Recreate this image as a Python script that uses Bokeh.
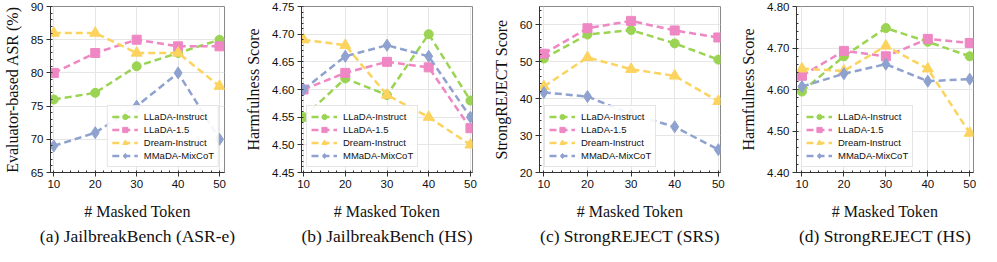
from bokeh.plotting import figure
from bokeh.layouts import row
from bokeh.models import Range1d, Title, FixedTicker, PrintfTickFormatter
from bokeh.embed import file_html
from bokeh.resources import INLINE

masked_tokens = [10, 20, 30, 40, 50]
series_names = ["LLaDA-Instruct", "LLaDA-1.5", "Dream-Instruct", "MMaDA-MixCoT"]

# (a) JailbreakBench ASR-e
a_llada_instruct = [76, 77, 81, 83, 85]
a_llada_15 = [80, 83, 85, 84, 84]
a_dream = [86, 86, 83, 83, 78]
a_mmada = [69, 71, 75, 80, 70]

# (b) JailbreakBench HS
b_llada_instruct = [4.55, 4.62, 4.59, 4.70, 4.58]
b_llada_15 = [4.60, 4.63, 4.65, 4.64, 4.53]
b_dream = [4.69, 4.68, 4.59, 4.55, 4.50]
b_mmada = [4.60, 4.66, 4.68, 4.66, 4.55]

# (c) StrongREJECT SRS
c_llada_instruct = [50.9, 57.4, 58.6, 55.0, 50.6]
c_llada_15 = [52.2, 59.1, 61.1, 58.5, 56.6]
c_dream = [43.3, 51.2, 48.0, 46.2, 39.3]
c_mmada = [41.7, 40.6, 35.8, 32.4, 26.2]

# (d) StrongREJECT HS
d_llada_instruct = [4.595, 4.680, 4.748, 4.715, 4.680]
d_llada_15 = [4.633, 4.693, 4.680, 4.722, 4.712]
d_dream = [4.650, 4.645, 4.705, 4.650, 4.495]
d_mmada = [4.607, 4.638, 4.661, 4.620, 4.625]

a_yticks = [65, 70, 75, 80, 85, 90]
b_yticks = [4.45, 4.50, 4.55, 4.60, 4.65, 4.70, 4.75]
c_yticks = [20, 30, 40, 50, 60]
d_yticks = [4.40, 4.50, 4.60, 4.70, 4.80]

colors = ["#9ad452", "#ee87c3", "#fbd35e", "#8fa2cf"]
markers = ["circle", "square", "triangle", "diamond"]
msizes = [9, 9, 11, 12]

SERIF = "Liberation Serif"
SANS = "Liberation Sans"


def make_panel(series, ylabel, caption, yr, yticks, yminor, fmt, xr,
               legend_loc, width, bl, br):
    p = figure(width=width, height=246, output_backend="svg",
               toolbar_location=None, x_range=Range1d(*xr), y_range=Range1d(*yr),
               min_border_left=bl, min_border_right=br, min_border_top=6,
               min_border_bottom=0)
    for vals, name, c, m, s in zip(series, series_names, colors, markers, msizes):
        p.line(masked_tokens, vals, line_color=c, line_width=2.5,
               line_dash="7 4", legend_label=name)
        p.scatter(masked_tokens, vals, marker=m, size=s, fill_color=c,
                  line_color=c, legend_label=name)
    p.xaxis.ticker = FixedTicker(ticks=masked_tokens,
                                 minor_ticks=list(range(8, 53, 2)))
    p.yaxis.ticker = FixedTicker(ticks=yticks, minor_ticks=yminor)
    p.yaxis.formatter = PrintfTickFormatter(format=fmt)
    for ax in (p.xaxis[0], p.yaxis[0]):
        ax.major_label_text_font = SANS
        ax.major_label_text_font_size = "11.5px"
        ax.major_label_text_color = "#111111"
        ax.axis_label_text_font = SERIF
        ax.axis_label_text_font_size = "16px"
        ax.axis_label_text_font_style = "normal"
        ax.axis_label_text_color = "#111111"
        ax.axis_line_color = "#333333"
        ax.major_tick_line_color = "#333333"
        ax.minor_tick_line_color = "#333333"
        ax.major_tick_out = 4
        ax.major_tick_in = 0
        ax.minor_tick_out = 0
        ax.minor_tick_in = 2
        ax.major_label_standoff = 3
    p.xaxis.axis_label = "# Masked Token"
    p.xaxis.axis_label_standoff = 12
    p.yaxis.axis_label = ylabel
    p.yaxis.axis_label_standoff = 7
    p.grid.grid_line_color = "#e6e6e6"
    p.grid.grid_line_width = 1
    p.outline_line_color = "#888888"
    p.outline_line_width = 1
    p.add_layout(Title(text=caption, align="center", text_font=SERIF,
                       text_font_size="17.5px", text_font_style="normal",
                       text_color="#111111", standoff=2), "below")
    lg = p.legend[0]
    lg.location = legend_loc
    lg.margin = 5
    lg.padding = 4
    lg.spacing = 0
    lg.label_height = 12
    lg.glyph_height = 13
    lg.glyph_width = 26
    lg.label_standoff = 6
    lg.label_text_font = SANS
    lg.label_text_font_size = "9.5px"
    lg.label_text_color = "#111111"
    lg.border_line_color = "#cccccc"
    lg.background_fill_alpha = 0.9
    return p


pa = make_panel([a_llada_instruct, a_llada_15, a_dream, a_mmada],
                "Evaluator-based ASR (%)", "(a) JailbreakBench (ASR-e)",
                (65, 90), a_yticks, list(range(65, 91)), "%d", (9.2, 51.2),
                "bottom_right", 242, 40, 18)
pb = make_panel([b_llada_instruct, b_llada_15, b_dream, b_mmada],
                "Harmfulness Score", "(b) JailbreakBench (HS)",
                (4.45, 4.75), b_yticks, [4.45 + 0.01 * i for i in range(31)],
                "%.2f", (9.5, 50.5), "bottom_left", 247, 50, 17)
pc = make_panel([c_llada_instruct, c_llada_15, c_dream, c_mmada],
                "StrongREJECT Score", "(c) StrongREJECT (SRS)",
                (20, 65), c_yticks, list(range(20, 66, 2)), "%d", (9.0, 50.5),
                "bottom_left", 248, 45, 17)
pd_ = make_panel([d_llada_instruct, d_llada_15, d_dream, d_mmada],
                 "Harmfulness Score", "(d) StrongREJECT (HS)",
                 (4.40, 4.80), d_yticks, [4.40 + 0.02 * i for i in range(21)],
                 "%.2f", (8.7, 50.9), "bottom_left", 244, 58, 8)

layout = row(pa, pb, pc, pd_)
open("out.html", "w").write(file_html(layout, INLINE))
